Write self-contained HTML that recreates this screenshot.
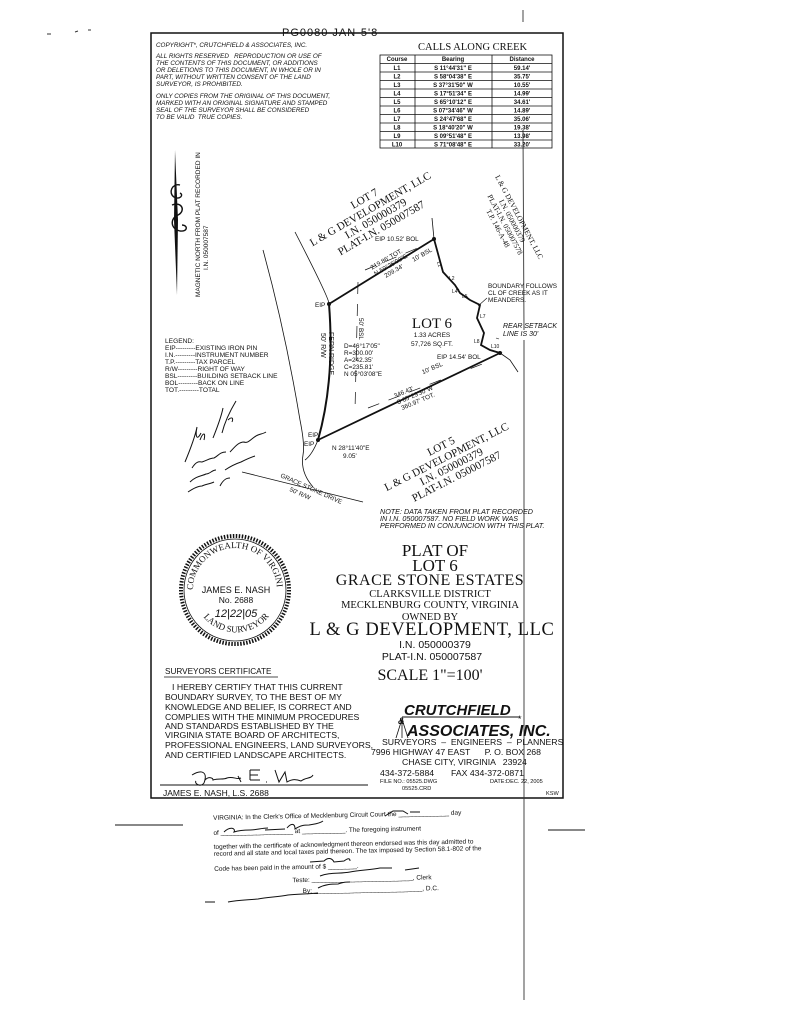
<!DOCTYPE html>
<html><head><meta charset="utf-8"><style>
html,body{margin:0;padding:0;background:#fff;}
svg{display:block}
text{fill:#111;white-space:pre}
.s{font-family:"Liberation Sans",sans-serif}
.r{font-family:"Liberation Serif",serif}
.i{font-family:"Liberation Sans",sans-serif;font-style:italic}
</style></head><body>
<svg width="792" height="1024" viewBox="0 0 792 1024" xmlns="http://www.w3.org/2000/svg" xml:space="preserve">
<rect width="792" height="1024" fill="#fff"/>
<path d="M47 34 l4 0 M75 32 l3 -1 M88 30 l3 0" stroke="#333" stroke-width="1"/>
<rect x="151" y="33" width="412" height="765" fill="none" stroke="#111" stroke-width="1.5"/>
<path d="M523 10 L523 22 M523 130 L524 330 M524 340 L524 1000" stroke="#333" stroke-width="0.9"/>
<text class="s" x="282" y="36" font-size="11" letter-spacing="1">PG0080 JAN-5'8</text>

<g class="i" font-size="6.3">
<text x="156" y="47">COPYRIGHT*, CRUTCHFIELD &amp; ASSOCIATES, INC.</text>
<text x="156" y="58">ALL RIGHTS RESERVED   REPRODUCTION OR USE OF</text>
<text x="156" y="65">THE CONTENTS OF THIS DOCUMENT, OR ADDITIONS</text>
<text x="156" y="72">OR DELETIONS TO THIS DOCUMENT, IN WHOLE OR IN</text>
<text x="156" y="79">PART, WITHOUT WRITTEN CONSENT OF THE LAND</text>
<text x="156" y="86">SURVEYOR, IS PROHIBITED.</text>
<text x="156" y="98">ONLY COPIES FROM THE ORIGINAL OF THIS DOCUMENT,</text>
<text x="156" y="105">MARKED WITH AN ORIGINAL SIGNATURE AND STAMPED</text>
<text x="156" y="112">SEAL OF THE SURVEYOR SHALL BE CONSIDERED</text>
<text x="156" y="119">TO BE VALID  TRUE COPIES.</text>
</g>

<text class="r" x="418" y="50" font-size="10.5">CALLS ALONG CREEK</text>
<g stroke="#111" stroke-width="0.8" fill="none">
<rect x="380" y="55" width="172" height="93"/>
<path d="M415 55V148 M492 55V148"/>
<path d="M380 63.5H552 M380 72H552 M380 80.5H552 M380 89H552 M380 97.5H552 M380 106H552 M380 114.5H552 M380 123H552 M380 131.5H552 M380 140H552"/>
</g>
<g class="s" font-size="6" font-weight="bold" text-anchor="middle">
<text x="397" y="61">Course</text><text x="453" y="61">Bearing</text><text x="522" y="61">Distance</text>
<text x="397" y="70">L1</text><text x="453" y="70">S 11°44'31" E</text><text x="522" y="70">59.14'</text>
<text x="397" y="78.5">L2</text><text x="453" y="78.5">S 58°04'38" E</text><text x="522" y="78.5">35.75'</text>
<text x="397" y="87">L3</text><text x="453" y="87">S 37°31'50" W</text><text x="522" y="87">10.55'</text>
<text x="397" y="95.5">L4</text><text x="453" y="95.5">S 17°51'34" E</text><text x="522" y="95.5">14.99'</text>
<text x="397" y="104">L5</text><text x="453" y="104">S 65°10'12" E</text><text x="522" y="104">34.61'</text>
<text x="397" y="112.5">L6</text><text x="453" y="112.5">S 07°34'46" W</text><text x="522" y="112.5">14.89'</text>
<text x="397" y="121">L7</text><text x="453" y="121">S 24°47'68" E</text><text x="522" y="121">35.06'</text>
<text x="397" y="129.5">L8</text><text x="453" y="129.5">S 18°40'20" W</text><text x="522" y="129.5">19.38'</text>
<text x="397" y="138">L9</text><text x="453" y="138">S 09°51'48" E</text><text x="522" y="138">13.98'</text>
<text x="397" y="146.5">L10</text><text x="453" y="146.5">S 71°08'48" E</text><text x="522" y="146.5">33.20'</text>
</g>

<path d="M175 150 L178 220 L177 295 L174 220 Z" fill="#111"/>
<path d="M180 185 c-8 -2 -12 8 -6 12 c6 3 10 -2 6 -4 M172 205 c10 -4 14 6 6 10 c-8 3 -8 14 2 16 c8 1 8 -6 2 -6" fill="none" stroke="#111" stroke-width="1.4"/>
<text class="s" font-size="6.5" transform="translate(200 297) rotate(-90)">MAGNETIC NORTH FROM PLAT RECORDED IN</text>
<text class="s" font-size="6.5" transform="translate(208 270) rotate(-90)">I.N. 050007587</text>

<g class="s" font-size="6.6">
<text x="165" y="343">LEGEND:</text>
<text x="165" y="350">EIP---------EXISTING IRON PIN</text>
<text x="165" y="357">I.N.---------INSTRUMENT NUMBER</text>
<text x="165" y="364">T.P.---------TAX PARCEL</text>
<text x="165" y="371">R/W---------RIGHT OF WAY</text>
<text x="165" y="378">BSL---------BUILDING SETBACK LINE</text>
<text x="165" y="385">BOL---------BACK ON LINE</text>
<text x="165" y="392">TOT.---------TOTAL</text>
</g>

<g fill="none" stroke="#111">
<path d="M263 250 Q285 330 300 420 Q305 445 303 455 Q300 472 313 487" stroke-width="0.8"/>
<path d="M295 232 Q330 300 329 304" stroke-width="0.8"/>
<path d="M329 304 Q335 380 318 440" stroke-width="2"/>
<path d="M318 440 Q312 455 305 460" stroke-width="0.8"/>
<path d="M242 472 L363 502" stroke-width="0.8"/>
<path d="M329 304 L434 239 L443 272 L455 285 L460 293 L470 300 L480 305 L477 318 L484 333 L481 345 L490 350 L500 353 L318 440" stroke-width="1.8"/>
<path d="M432 218 L434 239" stroke-width="0.8"/>
<path d="M500 353 L510 360 L518 372" stroke-width="0.8"/>
<path d="M470 300 L466 296 M455 285 L459 290" stroke-width="0.8"/>
<path d="M358 282 L355 410 M365 270 L425 245 M368 408 L485 363" stroke-width="0.7" stroke-dasharray="12 10"/>
<path d="M487 298 L478 306 M499 339 L496 338" stroke-width="0.6"/>
</g>
<circle cx="434" cy="239" r="2" fill="#111"/><circle cx="329" cy="304" r="2" fill="#111"/>
<circle cx="500" cy="353" r="2" fill="#111"/><circle cx="318" cy="440" r="2" fill="#111"/>

<g class="r" font-size="11" text-anchor="middle" transform="translate(372 212) rotate(-30)">
<text x="0" y="-12">LOT 7</text>
<text x="0" y="0">L &amp; G DEVELOPMENT, LLC</text>
<text x="0" y="11">I.N. 050000379</text>
<text x="0" y="22">PLAT-I.N. 050007587</text>
</g>
<g class="r" font-size="11" text-anchor="middle" transform="translate(448 460) rotate(-27)">
<text x="0" y="-12">LOT 5</text>
<text x="0" y="0">L &amp; G DEVELOPMENT, LLC</text>
<text x="0" y="11">I.N. 050000379</text>
<text x="0" y="22">PLAT-I.N. 050007587</text>
</g>
<g class="r" font-size="7.5" text-anchor="middle" transform="translate(510 222) rotate(62)">
<text x="0" y="-8">L &amp; G DEVELOPMENT, LLC</text>
<text x="0" y="0">I.N. 050000379</text>
<text x="0" y="8">PLAT-I.N. 050007578</text>
<text x="0" y="16">T.P. 146-A-48</text>
</g>

<text class="r" x="432" y="328" font-size="15" text-anchor="middle">LOT 6</text>
<text class="s" x="432" y="337" font-size="6.5" text-anchor="middle">1.33 ACRES</text>
<text class="s" x="432" y="346" font-size="6.5" text-anchor="middle">57,726 SQ.FT.</text>

<g class="s" font-size="6.4">
<text x="344" y="348">D=46°17'05"</text>
<text x="344" y="355">R=300.00'</text>
<text x="344" y="362">A=242.35'</text>
<text x="344" y="369">C=235.81'</text>
<text x="344" y="376">N 05°03'08"E</text>
<text x="375" y="241">EIP 10.52' BOL</text>
<text x="315" y="307">EIP</text>
<text x="437" y="359">EIP 14.54' BOL</text>
<text x="308" y="437">EIP</text>
<text x="304" y="446">EIP</text>
<text x="332" y="450">N 28°11'40"E</text>
<text x="343" y="458">9.05'</text>
<text x="488" y="288">BOUNDARY FOLLOWS</text>
<text x="488" y="295">CL OF CREEK AS IT</text>
<text x="488" y="302">MEANDERS.</text>
<text class="i" x="503" y="328" font-size="7">REAR SETBACK</text>
<text class="i" x="503" y="336" font-size="7">LINE IS 30'</text>
</g>
<g class="s" font-size="6.3" transform="translate(375 275) rotate(-30)">
<text x="0" y="-6">219.86' TOT.</text>
<text x="0" y="1">N 59°25'08"E</text>
<text x="8" y="8">209.34'</text><text x="40" y="8">10' BSL</text>
</g>
<g class="s" font-size="6.3" transform="translate(395 398) rotate(-23)">
<text x="0" y="0">346.43'</text>
<text x="0" y="7">S 65°23'30"W</text>
<text x="2" y="14">360.97' TOT.</text>
<text x="35" y="-11">10' BSL</text>
</g>
<text class="s" font-size="6.3" transform="translate(359 318) rotate(90)">50' BSL</text>
<text class="s" font-size="7" transform="translate(329 332) rotate(90)">FERN RIDGE</text>
<text class="s" font-size="7" transform="translate(321 333) rotate(90)">50' R/W</text>
<g class="s" font-size="6.3" transform="translate(280 477) rotate(24)">
<text x="0" y="0">GRACE STONE DRIVE</text>
<text x="14" y="9">50' R/W</text>
</g>
<g class="s" font-size="5" fill="#111">
<text x="437" y="262" transform="rotate(75 437 262)">L1</text>
<text x="449" y="280">L2</text><text x="462" y="298">L5</text><text x="452" y="293">L4</text>
<text x="480" y="318">L7</text><text x="474" y="343">L8</text><text x="491" y="348">L10</text>
</g>

<g fill="none" stroke="#111" stroke-width="1">
<path d="M185 462 c5 -12 10 -25 12 -35 c-2 10 0 14 4 6 M200 440 c3 -8 6 -8 4 0 M213 438 c4 -10 8 -20 10 -30 M222 433 c3 -12 8 -22 14 -32 M228 420 c3 -3 6 -3 4 2"/>
<path d="M192 468 c5 -8 8 -6 10 -6 c6 -2 8 -4 12 -4 c4 -2 6 -6 12 -6 M230 452 c4 -4 8 -10 14 -10 c4 2 8 -4 12 -6 c3 -2 7 -2 10 -4"/>
<path d="M190 482 c6 -6 12 -6 16 -8 c4 0 6 -4 10 -4 M225 470 c6 -4 10 -6 16 -8 c4 -2 8 -4 14 -6"/>
<path d="M188 492 c6 -4 10 -6 14 -6 c4 -2 8 -2 12 -4 M220 486 c3 -6 6 -8 10 -8"/>
</g>

<g class="i" font-size="7.2">
<text x="380" y="514">NOTE: DATA TAKEN FROM PLAT RECORDED</text>
<text x="380" y="521">IN I.N. 050007587. NO FIELD WORK WAS</text>
<text x="380" y="528">PERFORMED IN CONJUNCION WITH THIS PLAT.</text>
</g>

<circle cx="235" cy="590" r="54" fill="none" stroke="#111" stroke-width="4" stroke-dasharray="1.5 1.5"/>
<circle cx="235" cy="590" r="51" fill="none" stroke="#111" stroke-width="0.8"/>
<defs><path id="sealtop" d="M193 590 A42 42 0 0 1 277 590"/><path id="sealbot" d="M200 612 A42 42 0 0 0 272 612"/></defs>
<text class="r" font-size="9"><textPath href="#sealtop">COMMONWEALTH OF VIRGINIA</textPath></text>
<text class="r" font-size="9"><textPath href="#sealbot" startOffset="6">LAND SURVEYOR</textPath></text>
<text class="s" x="236" y="593" font-size="9" text-anchor="middle">JAMES E. NASH</text>
<text class="s" x="236" y="603" font-size="8.5" text-anchor="middle">No. 2688</text>
<text class="s" x="236" y="617" font-size="11" text-anchor="middle" font-style="italic">12|22|05</text>

<g class="r" text-anchor="middle">
<text x="435" y="556" font-size="17">PLAT OF</text>
<text x="435" y="571" font-size="17">LOT 6</text>
<text x="430" y="585" font-size="16" letter-spacing="0.5">GRACE STONE ESTATES</text>
<text x="430" y="597" font-size="10.5">CLARKSVILLE DISTRICT</text>
<text x="430" y="608" font-size="10.5">MECKLENBURG COUNTY, VIRGINIA</text>
<text x="430" y="620" font-size="10.5">OWNED BY</text>
<text x="432" y="635" font-size="18.5" letter-spacing="0.6">L &amp; G DEVELOPMENT, LLC</text>
<text x="435" y="648" font-size="10.5" class="s">I.N. 050000379</text>
<text x="432" y="660" font-size="10.5" class="s">PLAT-I.N. 050007587</text>
<text x="430" y="680" font-size="16">SCALE 1"=100'</text>
</g>

<text class="s" x="165" y="674" font-size="8.2">SURVEYORS CERTIFICATE</text>
<path d="M164 677 H278" stroke="#111" stroke-width="0.8"/>
<g class="s" font-size="8.7">
<text x="172" y="690">I HEREBY CERTIFY THAT THIS CURRENT</text>
<text x="165" y="700">BOUNDARY SURVEY, TO THE BEST OF MY</text>
<text x="165" y="710">KNOWLEDGE AND BELIEF, IS CORRECT AND</text>
<text x="165" y="720">COMPLIES WITH THE MINIMUM PROCEDURES</text>
<text x="165" y="729">AND STANDARDS ESTABLISHED BY THE</text>
<text x="165" y="738">VIRGINIA STATE BOARD OF ARCHITECTS,</text>
<text x="165" y="748">PROFESSIONAL ENGINEERS, LAND SURVEYORS,</text>
<text x="165" y="758">AND CERTIFIED LANDSCAPE ARCHITECTS.</text>
</g>
<path d="M192 775 c10 -6 16 -3 12 8 c-4 5 -10 0 -8 -2 M205 780 c4 -4 8 -2 8 0 c6 -2 10 0 14 -2 c6 -2 10 2 14 0 M238 776 l3 6 M250 770 l0 10 M250 770 l10 0 M250 775 l8 0 M250 780 l10 0 M266 782 l1 0 M275 770 l4 12 l6 -10 l2 10 c5 -3 9 -3 14 -1 c5 -4 10 -2 12 -6" fill="none" stroke="#111" stroke-width="1"/>
<path d="M160 785 H368" stroke="#111" stroke-width="0.9"/>
<text class="s" x="163" y="796" font-size="8.5">JAMES E. NASH, L.S. 2688</text>

<text class="s" x="404" y="715" font-size="15" font-weight="bold" font-style="italic">CRUTCHFIELD</text>
<path d="M402 717 H520" stroke="#111" stroke-width="1"/>
<text class="s" x="518" y="722" font-size="9">*</text>
<text class="s" x="398" y="724" font-size="9" font-weight="bold" font-style="italic">&amp;</text>
<text class="s" x="407" y="736" font-size="16" font-weight="bold" font-style="italic">ASSOCIATES, INC.</text>
<path d="M396 738 L402 719 L408 738 M402 719 L402 738" fill="none" stroke="#111" stroke-width="0.8"/>
<g class="s" font-size="8.7">
<text x="382" y="745">SURVEYORS  –  ENGINEERS  –  PLANNERS</text>
<text x="371" y="755">7996 HIGHWAY 47 EAST      P. O. BOX 268</text>
<text x="402" y="765">CHASE CITY, VIRGINIA   23924</text>
<text x="380" y="776">434-372-5884       FAX 434-372-0871</text>
</g>
<g class="s" font-size="5.6">
<text x="380" y="783">FILE NO.: 05525.DWG</text>
<text x="402" y="790">05525.CRD</text>
<text x="490" y="783">DATE:DEC. 22, 2005</text>
<text x="546" y="795">KSW</text>
</g>

<path d="M115 825 H183 M548 830 H585" stroke="#111" stroke-width="1"/>
<g class="s" font-size="6.5" transform="rotate(-1.2 350 860)">
<text x="214" y="817">VIRGINIA: In the Clerk's Office of Mecklenburg Circuit Court the ______________ day</text>
<text x="214" y="832">of ____________________ at ____________. The foregoing instrument</text>
<text x="214" y="846">together with the certificate of acknowledgment thereon endorsed was this day admitted to</text>
<text x="214" y="853">record and all state and local taxes paid thereon. The tax imposed by Section 58.1-802 of the</text>
<text x="214" y="868">Code has been paid in the amount of $ ________.</text>
<text x="292" y="881">Teste: ____________________________, Clerk</text>
<text x="302" y="892">By: ______________________________, D.C.</text>
</g>
<g fill="none" stroke="#111" stroke-width="1">
<path d="M385 816 l8 -5 l10 0 l5 3 M410 812 l10 0"/>
<path d="M224 832 c6 -6 12 -4 10 0 c6 -2 12 -2 16 -2 c6 0 12 -2 18 -2 M265 830 l20 -1 M287 828 c4 -5 8 -5 8 1 c6 -4 10 -4 14 -4 c5 -1 10 -1 14 -4"/>
<path d="M310 862 l14 -1 c4 -4 8 -3 10 1 l10 -1 c4 -3 6 -3 6 0"/>
<path d="M320 876 c10 -4 20 -2 30 -4 c10 -2 20 -2 30 -4 l12 0 M405 870 l14 -2"/>
<path d="M318 888 c8 -4 14 -4 20 -4 c6 -2 8 -2 12 -2"/>
<path d="M205 902 l10 0 M228 902 c10 -2 20 -2 30 -3 c10 -2 20 -2 30 -4 c10 -1 20 -1 30 -2"/>
</g>
</svg>
</body></html>
